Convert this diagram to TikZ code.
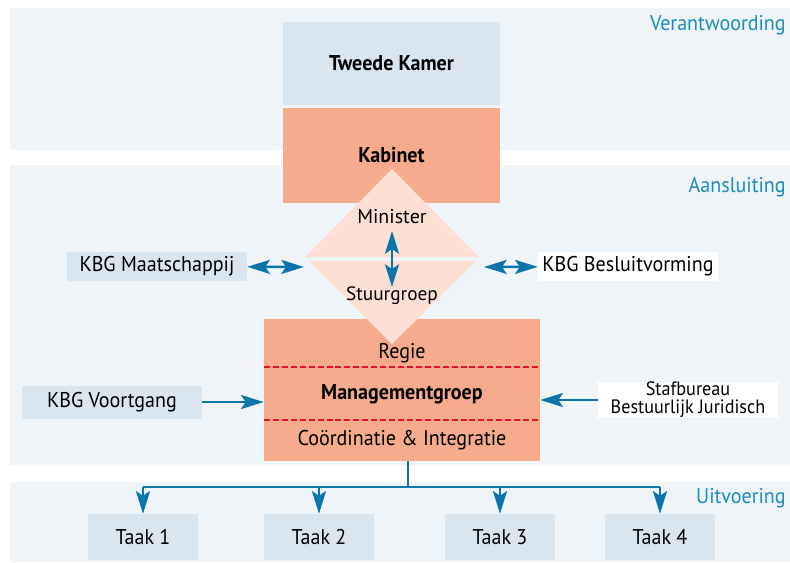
\documentclass[tikz,border=0pt]{standalone}
\usepackage{fontspec}
\setmainfont[FakeStretch=0.94]{PT Sans}
\newfontfamily\widefont{PT Sans}
\usepackage{tikz}
\usetikzlibrary{positioning,arrows.meta,calc}
\definecolor{bandbg}{HTML}{EEF4F8}
\definecolor{boxblue}{HTML}{DAE6EF}
\definecolor{salmon}{HTML}{F5AB8C}
\definecolor{pinklite}{HTML}{FDE0D3}
\definecolor{arrblue}{HTML}{0A74AB}
\definecolor{lblblue}{HTML}{1A8DC0}
\definecolor{dashred}{HTML}{E0102F}

\begin{document}
\begin{tikzpicture}[x=0.75pt,y=-0.75pt,font=\fontsize{16}{17}\selectfont]
  \tikzstyle{bx}=[inner sep=0pt,align=center,text=black]
  \tikzstyle{lnk}=[draw=arrblue,line width=1.8pt,-{Stealth[length=17pt,width=10.5pt,inset=3.5pt]}]
  \tikzstyle{dlnk}=[lnk,{Stealth[length=17pt,width=10.5pt,inset=3.5pt]}-{Stealth[length=17pt,width=10.5pt,inset=3.5pt]}]
  \tikzstyle{lvl}=[anchor=east,text=lblblue,inner sep=0pt]
  \useasboundingbox (0,0) rectangle (790,562);
  % bands
  \fill[bandbg] (10,8) rectangle (790,150);
  \fill[bandbg] (10,165) rectangle (790,465);
  \fill[bandbg] (10,482) rectangle (790,562);
  \node[lvl] (verant) at (786,25) {Verantwoording};
  \node[lvl] (aansl) at (786,187) {Aansluiting};
  \node[lvl] (uitv) at (786,498) {Uitvoering};
  % top
  \node[bx,fill=boxblue,minimum width=162.75pt,minimum height=62.25pt,font=\fontsize{16}{17}\selectfont\bfseries] (tk) at (391.5,63) {Tweede Kamer};
  \node[bx,fill=salmon,minimum width=162.75pt,minimum height=71.25pt,font=\fontsize{16}{17}\selectfont\bfseries] (kab) at (391.5,155) {Kabinet};
  % management
  \node[bx,fill=salmon,minimum width=207pt,minimum height=106.5pt] (mg) at (402,390) {};
  \draw[dashred,line width=1.5pt,dash pattern=on 4.5pt off 2.2pt] (264,367) -- (540,367);
  \draw[dashred,line width=1.5pt,dash pattern=on 4.5pt off 2.2pt] (264,420) -- (540,420);
  % diamond
  \fill[pinklite] (392,169) -- (305,257) -- (479,257) -- cycle;
  \fill[pinklite] (309,261) -- (476,261) -- (392,344) -- cycle;
  \node[bx,font=\widefont\fontsize{15}{16}\selectfont] (min) at (392,217) {Minister};
  \node[bx,font=\widefont\fontsize{14.5}{16}\selectfont] (stuur) at (392,296) {Stuurgroep};
  \coordinate (dl) at (304,267);
  \coordinate (dr) at (484,267);
  \coordinate (mintip) at (392,231);
  \coordinate (stuurtip) at (392,287);
  \draw[dlnk] (mintip) -- (stuurtip);
  \node[bx] (regie) at (402,353) {Regie};
  \node[bx,font=\fontsize{16}{17}\selectfont\bfseries] (mgt) at (402,394) {Managementgroep};
  \node[bx] (coord) at (402,440) {Coördinatie \& Integratie};
  % sides
  \node[bx,fill=boxblue,minimum width=135pt,minimum height=21.75pt] (kbgm) at (157,266.5) {KBG Maatschappij};
  \node[bx,fill=white,minimum width=135pt,minimum height=21.75pt] (kbgb) at (628,266.5) {KBG Besluitvorming};
  \node[bx,fill=boxblue,minimum width=135pt,minimum height=24.75pt] (kbgv) at (112,402) {KBG Voortgang};
  \node[bx,fill=white,minimum width=135pt,minimum height=25.5pt,font=\fontsize{14.5}{13.5}\selectfont] (staf) at (688,400) {Stafbureau\\Bestuurlijk Juridisch};
  \draw[dlnk] (kbgm) -- (dl);
  \draw[dlnk] (dr) -- (kbgb);
  \draw[lnk] (kbgv) -- (kbgv -| mg.west);
  \draw[lnk] (staf) -- (staf -| mg.east);
  % tasks
  \coordinate (split) at (408,487);
  \draw[arrblue,line width=1.8pt] (mg.south -| split) -- (split);
  \foreach \n/\x in {1/143,2/319,3/500,4/660}{
    \node[bx,fill=boxblue,minimum width=82.5pt,minimum height=34.5pt] (t\n) at (\x,537) {Taak \n};
    \draw[lnk] (t\n.north |- split) -- (t\n.north);
  }
  \draw[arrblue,line width=1.8pt] (t1.north |- split) -- (t4.north |- split);
\end{tikzpicture}
\end{document}
